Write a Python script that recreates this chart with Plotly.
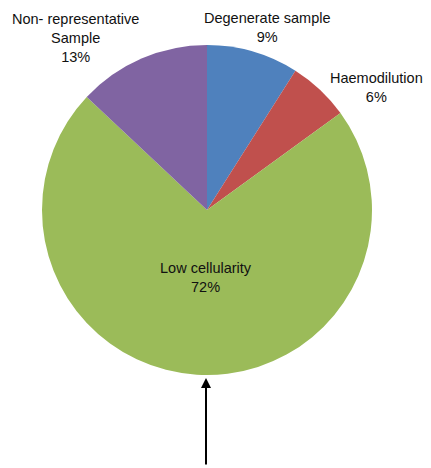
import plotly.graph_objects as go

# page has an 8px body margin, so the figure is drawn 8px smaller and offset
OFF = 8
W, H = 431 - OFF, 468 - OFF

categorii = ["Degenerate sample", "Haemodilution", "Low cellularity", "Non- representative<br>Sample"]
procente = [9, 6, 72, 13]
culori = ["#4F81BD", "#C0504D", "#9BBB59", "#8064A2"]

# label centres in page pixels (x, y of first line)
pozitii_etichete = [(267, 17), (376, 77), (206, 267), (75, 18)]


def px_x(p):
	return (p - OFF) / W


def px_y(p):
	return 1 - (p - OFF) / H


fig = go.Figure()

fig.add_trace(
	go.Pie(
		labels=categorii,
		values=procente,
		marker=dict(colors=culori, line=dict(width=0)),
		sort=False,
		direction="clockwise",
		rotation=0,
		textinfo="none",
		hoverinfo="label+percent",
		domain=dict(x=[px_x(42), px_x(372)], y=[px_y(375), px_y(45)]),
		showlegend=False,
	)
)

for cat, val, (px, py) in zip(categorii, procente, pozitii_etichete):
	fig.add_annotation(
		x=px_x(px),
		y=px_y(py),
		xref="paper",
		yref="paper",
		xanchor="center",
		yanchor="top",
		yshift=9,
		text=f"{cat}<br>{val}%",
		showarrow=False,
		font=dict(family="Liberation Sans, Arial, sans-serif", size=14.5, color="#111111"),
		align="center",
	)

# arrow pointing up at the bottom of the pie
fig.add_annotation(
	x=px_x(206),
	y=px_y(378),
	xref="paper",
	yref="paper",
	ax=0,
	ay=88,
	text="",
	showarrow=True,
	arrowhead=2,
	arrowsize=1,
	arrowwidth=2,
	arrowcolor="black",
)

fig.update_layout(
	width=W,
	height=H,
	margin=dict(l=0, r=0, t=0, b=0),
	paper_bgcolor="white",
	plot_bgcolor="white",
)

fig.write_html("out.html")
